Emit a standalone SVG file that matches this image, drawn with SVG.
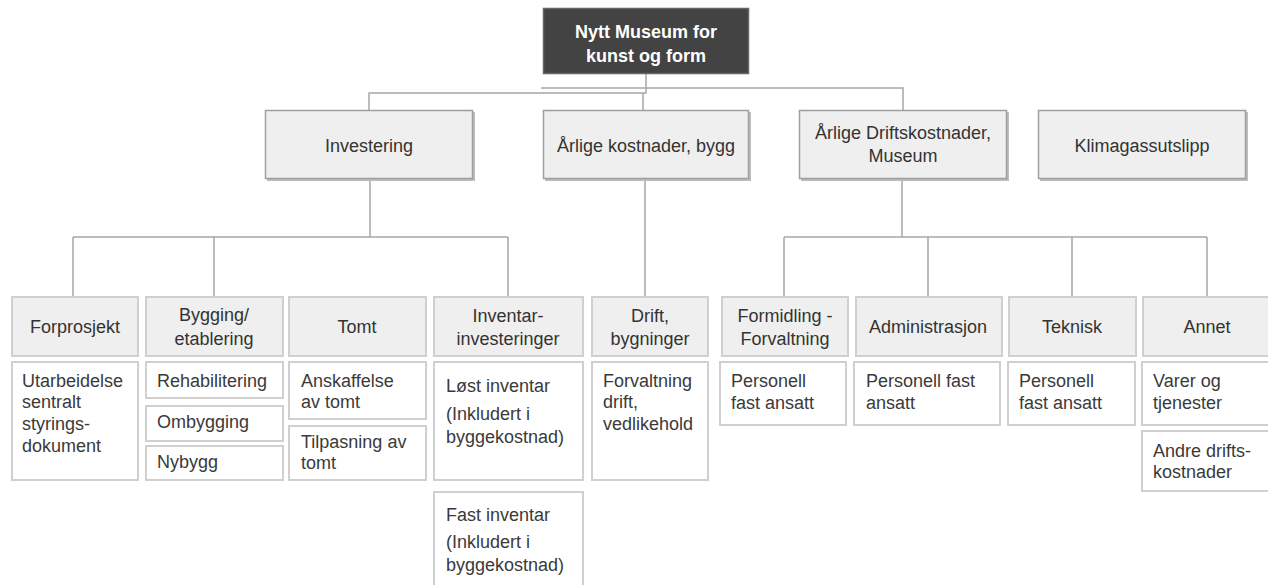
<svg xmlns="http://www.w3.org/2000/svg" width="1268" height="585" viewBox="0 0 1268 585">
<style>
text{font-family:"Liberation Sans",Arial,sans-serif;fill:#333}
.root rect{fill:#434343;stroke:#666;stroke-width:1.5}
.root text{fill:#fff;font-weight:bold;font-size:18px;text-anchor:middle}
.l2 rect.b{fill:#efefef;stroke:#9e9e9e;stroke-width:1.5}
.l2 rect.s{fill:#bdbdbd}
.l2 text{font-size:18px;text-anchor:middle}
.l3 rect{fill:#efefef;stroke:#cfcfcf;stroke-width:2}
.l3 text{font-size:18px;text-anchor:middle}
.lf rect{fill:#fff;stroke:#cfcfcf;stroke-width:2}
.lf text{font-size:18px;fill:#3a3a3a}
.conn path{fill:none;stroke:#a6a6a6;stroke-width:1.5}
</style>
<rect width="1268" height="585" fill="#fff"/>
<g class="conn" id="connectors">
<path d="M646,74 V93 H369 V110"/>
<path d="M541,88 H903 V110"/>
<path d="M643,93 V110"/>
<path d="M370,180 V237"/>
<path d="M73,237 H508"/>
<path d="M73,237 V297 M214,237 V297 M508,237 V297"/>
<path d="M645,180 V297"/>
<path d="M902,180 V237"/>
<path d="M784,237 H1207"/>
<path d="M784,237 V297 M928,237 V297 M1072,237 V297 M1207,237 V297"/>
</g>
<g class="root" id="n-root">
<rect x="543.5" y="8.5" width="205" height="65"/>
<text x="646" y="38">Nytt Museum for</text>
<text x="646" y="62">kunst og form</text>
</g>
<g class="l2" id="n-investering">
<rect class="s" x="267" y="112" width="208" height="69"/>
<rect class="b" x="265.5" y="110.5" width="207" height="68"/>
<text x="369" y="152">Investering</text>
</g>
<g class="l2" id="n-arlige-bygg">
<rect class="s" x="545" y="112" width="206" height="69"/>
<rect class="b" x="543.5" y="110.5" width="205" height="68"/>
<text x="646" y="152">Årlige kostnader, bygg</text>
</g>
<g class="l2" id="n-arlige-drift">
<rect class="s" x="801" y="112" width="208" height="69"/>
<rect class="b" x="799.5" y="110.5" width="207" height="68"/>
<text x="903" y="139">Årlige Driftskostnader,</text>
<text x="903" y="162">Museum</text>
</g>
<g class="l2" id="n-klima">
<rect class="s" x="1040" y="112" width="208" height="69"/>
<rect class="b" x="1038.5" y="110.5" width="207" height="68"/>
<text x="1142" y="152">Klimagassutslipp</text>
</g>
<g class="l3" id="n-forprosjekt">
<rect x="12" y="297" width="126" height="59"/>
<text x="75" y="333">Forprosjekt</text>
</g>
<g class="l3" id="n-bygging">
<rect x="146" y="297" width="137" height="59"/>
<text x="214" y="321">Bygging/</text>
<text x="214" y="345">etablering</text>
</g>
<g class="l3" id="n-tomt">
<rect x="289" y="297" width="137" height="59"/>
<text x="357" y="333">Tomt</text>
</g>
<g class="l3" id="n-inventar">
<rect x="434" y="297" width="149" height="59"/>
<text x="508" y="322">Inventar-</text>
<text x="508" y="345">investeringer</text>
</g>
<g class="l3" id="n-drift-bygg">
<rect x="592" y="297" width="116" height="59"/>
<text x="650" y="322">Drift,</text>
<text x="650" y="345">bygninger</text>
</g>
<g class="l3" id="n-formidling">
<rect x="722" y="297" width="126" height="59"/>
<text x="785" y="322">Formidling -</text>
<text x="785" y="345">Forvaltning</text>
</g>
<g class="l3" id="n-admin">
<rect x="856" y="297" width="146" height="59"/>
<text x="928" y="333">Administrasjon</text>
</g>
<g class="l3" id="n-teknisk">
<rect x="1009" y="297" width="127" height="59"/>
<text x="1072" y="333">Teknisk</text>
</g>
<g class="l3" id="n-annet">
<rect x="1143" y="297" width="130" height="59"/>
<text x="1207" y="333">Annet</text>
</g>
<g class="lf" id="n-utarbeidelse">
<rect x="12" y="362" width="126" height="118"/>
<text x="22" y="387">Utarbeidelse</text>
<text x="22" y="408">sentralt</text>
<text x="22" y="430">styrings-</text>
<text x="22" y="452">dokument</text>
</g>
<g class="lf" id="n-rehab">
<rect x="146" y="362" width="137" height="36"/>
<text x="157" y="387">Rehabilitering</text>
</g>
<g class="lf" id="n-ombygging">
<rect x="146" y="406" width="137" height="35"/>
<text x="157" y="428">Ombygging</text>
</g>
<g class="lf" id="n-nybygg">
<rect x="146" y="446" width="137" height="34"/>
<text x="157" y="468">Nybygg</text>
</g>
<g class="lf" id="n-anskaffelse">
<rect x="289" y="362" width="137" height="57"/>
<text x="301" y="387">Anskaffelse</text>
<text x="301" y="408">av tomt</text>
</g>
<g class="lf" id="n-tilpasning">
<rect x="289" y="426" width="137" height="54"/>
<text x="301" y="448">Tilpasning av</text>
<text x="301" y="469">tomt</text>
</g>
<g class="lf" id="n-lost">
<rect x="434" y="362" width="149" height="118"/>
<text x="446" y="392">Løst inventar</text>
<text x="446" y="420">(Inkludert i</text>
<text x="446" y="443">byggekostnad)</text>
</g>
<g class="lf" id="n-fast">
<rect x="434" y="492" width="149" height="100"/>
<text x="446" y="521">Fast inventar</text>
<text x="446" y="548">(Inkludert i</text>
<text x="446" y="571">byggekostnad)</text>
</g>
<g class="lf" id="n-forvaltning">
<rect x="592" y="362" width="116" height="118"/>
<text x="603" y="387">Forvaltning</text>
<text x="603" y="408">drift,</text>
<text x="603" y="430">vedlikehold</text>
</g>
<g class="lf" id="n-pers1">
<rect x="720" y="362" width="126" height="63"/>
<text x="731" y="387">Personell</text>
<text x="731" y="409">fast ansatt</text>
</g>
<g class="lf" id="n-pers2">
<rect x="854" y="362" width="146" height="63"/>
<text x="866" y="387">Personell fast</text>
<text x="866" y="409">ansatt</text>
</g>
<g class="lf" id="n-pers3">
<rect x="1008" y="362" width="127" height="63"/>
<text x="1019" y="387">Personell</text>
<text x="1019" y="409">fast ansatt</text>
</g>
<g class="lf" id="n-varer">
<rect x="1142" y="362" width="130" height="63"/>
<text x="1153" y="387">Varer og</text>
<text x="1153" y="409">tjenester</text>
</g>
<g class="lf" id="n-andre">
<rect x="1142" y="431" width="130" height="60"/>
<text x="1153" y="457">Andre drifts-</text>
<text x="1153" y="478">kostnader</text>
</g>
</svg>
